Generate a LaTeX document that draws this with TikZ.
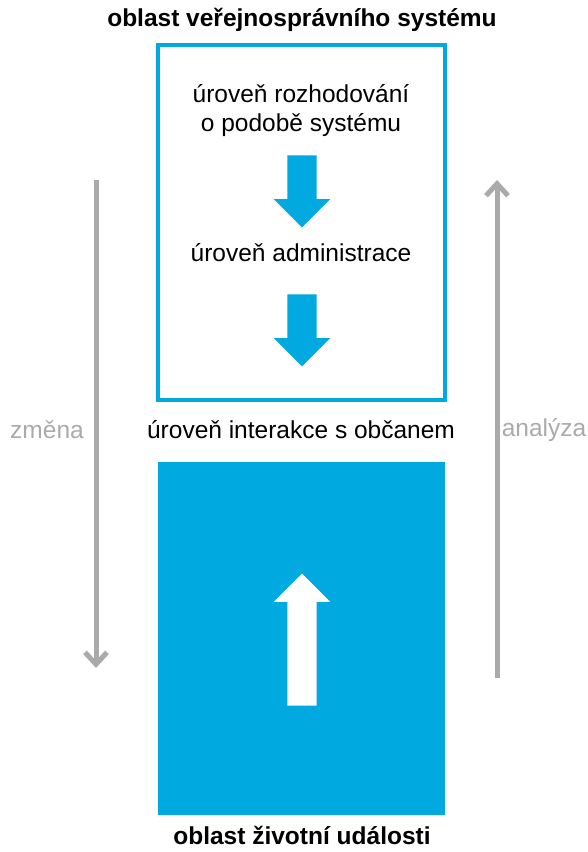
\documentclass[tikz,border=0pt]{standalone}
\usepackage{fontspec}
\setmainfont{Liberation Sans}
\usetikzlibrary{arrows.meta,shapes.arrows,positioning}
\definecolor{oblastblue}{RGB}{0,169,224}
\definecolor{flowgray}{RGB}{170,170,170}

\begin{document}
\begin{tikzpicture}[x=1pt, y=-1pt,
    label/.style={font=\fontsize{24.5}{29}\selectfont, align=center, inner sep=0pt},
    title/.style={label, font=\fontsize{24.5}{29}\selectfont\bfseries},
    side/.style={label, text=flowgray},
    fatarrow/.style={single arrow, single arrow head extend=13.5pt, inner xsep=0pt, inner ysep=14.5pt, draw=none},
    flow/.style={draw=flowgray, line width=5pt, -{Straight Barb[length=12pt, width=22pt]}}
]
    \useasboundingbox (0,0) rectangle (587,852);

    % areas
    \node [draw=oblastblue, line width=4pt, fill=white, minimum width=287pt, minimum height=355pt, inner sep=0pt] (system) at (301.5,222.5) {};
    \node [fill=oblastblue, minimum width=287pt, minimum height=353pt, inner sep=0pt] (event) at (301.5,638.5) {};

    \node [title] (systitle) at (302,20) {oblast veřejnosprávního systému};
    \node [title] (eventtitle) at (302,835) {oblast životní události};

    % levels
    \node [label] (decision) at (301,111) {úroveň rozhodování\\o podobě systému};
    \node [label] (admin) at (301,253) {úroveň administrace};
    \node [label] (interact) at (301,430) {úroveň interakce s občanem};

    \node [fatarrow, fill=oblastblue, minimum height=72pt, rotate=-90] (down1) at (302,184) {};
    \node [fatarrow, fill=oblastblue, minimum height=72pt, rotate=-90] (down2) at (302,323) {};
    \node [fatarrow, fill=white, minimum height=132pt, rotate=90] (up) at (302,647) {};

    % change and analysis
    \coordinate (changetop) at (96,180);
    \coordinate (changebot) at (96,668);
    \coordinate (analysisbot) at (497,678);
    \coordinate (analysistop) at (497,180);
    \draw [flow] (changetop) -- (changebot);
    \draw [flow] (analysisbot) -- (analysistop);

    \node [side] (change) at (47,430) {změna};
    \node [side] (analysis) at (544,430) {analýza};

\end{tikzpicture}
\end{document}
